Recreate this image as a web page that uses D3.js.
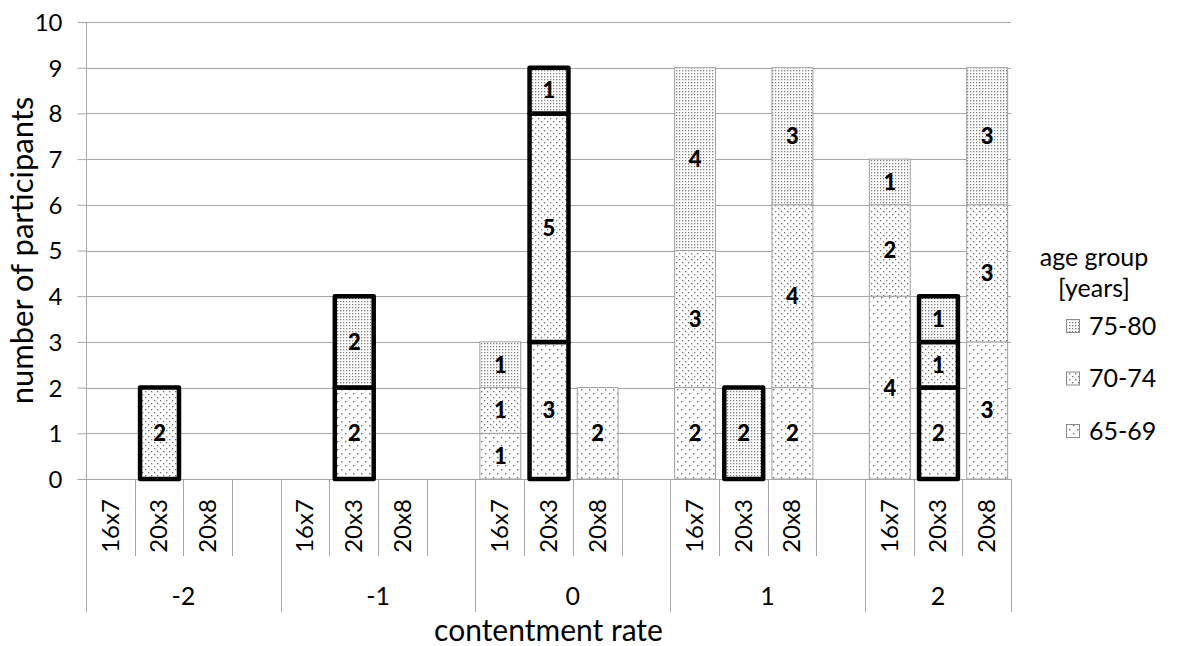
<!DOCTYPE html>
<html><head><meta charset="utf-8">
<script src="https://cdn.jsdelivr.net/npm/d3@7"></script>
<style>
html,body{margin:0;padding:0;background:#fff;}
svg text{font-family:Lato,"Open Sans",sans-serif;fill:#000;}
</style></head>
<body><svg id="c" width="1180" height="646"></svg>
<script>
// ---- data ----
const outerCats = ["-2", "-1", "0", "1", "2"];
const innerCats = ["16x7", "20x3", "20x8"];
const seriesNames = ["65-69", "70-74", "75-80"];
// values per (outer, inner) in reading order
const v65_69 = [0,0,0, 0,2,0, 1,3,2, 2,0,2, 4,2,3];
const v70_74 = [0,2,0, 0,0,0, 1,5,0, 3,0,4, 2,1,3];
const v75_80 = [0,0,0, 0,2,0, 1,1,0, 4,2,3, 1,1,3];
const yTicks = [0,1,2,3,4,5,6,7,8,9,10];
const highlightInner = "20x3";
const yTitle = "number of participants";
const xTitle = "contentment rate";
const legendTitle = ["age group", "[years]"];

// ---- layout ----
const svg = d3.select("#c");
const L = 86, R = 1011, T = 22, B = 479;
const gridColor = "#a6a6a6";

const slots = [];
outerCats.forEach((o, i) => {
  innerCats.forEach(c => slots.push(o + "|" + c));
  if (i < outerCats.length - 1) slots.push(o + "|blank");
});
const x = d3.scaleBand().domain(slots).range([L, R]).paddingInner(0.16).paddingOuter(0.08);
const step = x.step();
const slotStart = s => x(s) - x.paddingInner() * step / 2;
const y = d3.scaleLinear().domain([0, 10]).range([B, T]);

// patterns
const defs = svg.append("defs");
function pat(id, w, h, pts, r, col) {
  const p = defs.append("pattern").attr("id", id).attr("patternUnits", "userSpaceOnUse")
    .attr("width", w).attr("height", h);
  p.append("rect").attr("width", w).attr("height", h).attr("fill", "#fff");
  pts.forEach(([px, py]) => p.append("rect").attr("x", px).attr("y", py).attr("width", r).attr("height", r).attr("fill", col));
}
pat("p0", 8, 8, [[1, 1], [5, 5]], 1.4, "#6e6e6e");
pat("p1", 6, 6, [[1, 1], [4, 4]], 1.3, "#707070");
pat("p2", 3, 3, [[1, 1]], 1.3, "#808080");
const fills = ["url(#p0)", "url(#p1)", "url(#p2)"];

// gridlines
svg.append("g").selectAll("line").data(yTicks).join("line")
  .attr("x1", L).attr("x2", R).attr("y1", d => Math.round(y(d)) + 0.5).attr("y2", d => Math.round(y(d)) + 0.5)
  .attr("stroke", gridColor).attr("stroke-width", 1);

// y axis
const ya = svg.append("g").attr("transform", `translate(${L + 0.5},0)`)
  .call(d3.axisLeft(y).tickValues(yTicks).tickSize(9).tickPadding(15).tickFormat(d3.format("d")));
ya.select(".domain").attr("stroke", gridColor).attr("d", `M0,${T}V${B + 1}`);
ya.selectAll(".tick line").attr("stroke", gridColor);
ya.selectAll(".tick text").attr("font-size", 24).attr("font-family", "Lato").attr("dy", "0.35em");

// x axis separators (short, every slot)
const sep = svg.append("g");
slots.forEach(s => {
  const xs = Math.round(slotStart(s)) + 0.5;
  sep.append("line").attr("x1", xs).attr("x2", xs).attr("y1", B).attr("y2", 556).attr("stroke", gridColor);
});
// group boundaries (long)
const groupBounds = [];
outerCats.forEach(o => groupBounds.push(slotStart(o + "|" + innerCats[0])));
groupBounds.push(R);
groupBounds.forEach(gx => {
  const xs = Math.round(gx) + 0.5;
  sep.append("line").attr("x1", xs).attr("x2", xs).attr("y1", B).attr("y2", 612).attr("stroke", gridColor);
});
// inner labels
outerCats.forEach(o => innerCats.forEach(c => {
  const cx = x(o + "|" + c) + x.bandwidth() / 2;
  svg.append("text").attr("transform", `translate(${cx},526) rotate(-90)`)
    .attr("text-anchor", "middle").attr("dy", "0.35em").attr("font-size", 24).text(c);
}));
// outer labels
outerCats.forEach((o, i) => {
  const g0 = groupBounds[i], g1 = groupBounds[i + 1];
  svg.append("text").attr("x", (g0 + g1) / 2).attr("y", 596).attr("dy", "0.35em")
    .attr("text-anchor", "middle").attr("font-size", 25).text(o);
});

// titles
svg.append("text").attr("transform", `translate(22,${(T + B) / 2}) rotate(-90)`)
  .attr("text-anchor", "middle").attr("dy", "0.35em").attr("font-size", 31).text(yTitle);
svg.append("text").attr("x", (L + R) / 2).attr("y", 641)
  .attr("text-anchor", "middle").attr("font-size", 30).text(xTitle);

// bars
const allVals = [v65_69, v70_74, v75_80];
const segs = [];
outerCats.forEach((o, i) => innerCats.forEach((c, j) => {
  let base = 0;
  allVals.forEach((arr, k) => {
    const v = arr[i * innerCats.length + j];
    if (v > 0) segs.push({ slot: o + "|" + c, inner: c, k, y0: base, y1: base + v, v });
    base += v;
  });
}));
const normal = segs.filter(d => d.inner !== highlightInner);
const hi = segs.filter(d => d.inner === highlightInner);
svg.append("g").selectAll("rect").data(normal).join("rect")
  .attr("x", d => x(d.slot) + 0.5).attr("width", x.bandwidth())
  .attr("y", d => y(d.y1)).attr("height", d => y(d.y0) - y(d.y1))
  .attr("fill", d => fills[d.k]).attr("stroke", "#a0a0a0").attr("stroke-width", 1);
svg.append("g").selectAll("rect").data(hi).join("rect")
  .attr("x", d => x(d.slot) + 1.5).attr("width", x.bandwidth() - 2)
  .attr("y", d => y(d.y1)).attr("height", d => y(d.y0) - y(d.y1))
  .attr("fill", d => fills[d.k]).attr("stroke", "#000").attr("stroke-width", 4.5)
  .attr("stroke-linejoin", "round");
svg.append("g").selectAll("text").data(segs).join("text")
  .attr("x", d => x(d.slot) + x.bandwidth() / 2 + 0.5)
  .attr("y", d => (y(d.y0) + y(d.y1)) / 2).attr("dy", "0.36em")
  .attr("text-anchor", "middle").attr("font-size", 22).attr("font-weight", "900").text(d => d.v);

// legend
const lg = svg.append("g");
lg.append("text").attr("x", 1094).attr("y", 257).attr("dy", "0.35em").attr("text-anchor", "middle")
  .attr("font-size", 25).text(legendTitle[0]);
lg.append("text").attr("x", 1094).attr("y", 288).attr("dy", "0.35em").attr("text-anchor", "middle")
  .attr("font-size", 25).text(legendTitle[1]);
const legendOrder = [2, 1, 0];
const ly = d3.scalePoint().domain(legendOrder).range([326, 431]);
legendOrder.forEach(k => {
  lg.append("rect").attr("x", 1066.5).attr("y", ly(k) - 6.5).attr("width", 13).attr("height", 13)
    .attr("fill", fills[k]).attr("stroke", "#8a8a8a");
  lg.append("text").attr("x", 1089).attr("y", ly(k)).attr("dy", "0.35em").attr("font-size", 25).text(seriesNames[k]);
});
</script></body></html>
